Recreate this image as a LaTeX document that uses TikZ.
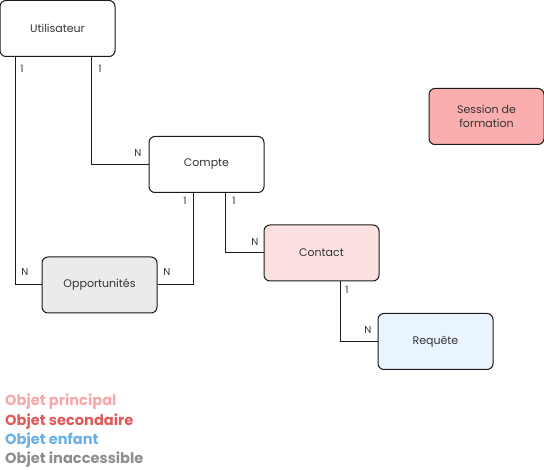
\documentclass[tikz,border=0pt]{standalone}
\usepackage{fontspec}
\setmainfont{Poppins}
\definecolor{edge}{HTML}{1A1A1A}
\definecolor{txt}{HTML}{333333}
\definecolor{contactfill}{HTML}{FDE0E0}
\definecolor{sessionfill}{HTML}{FBAEAE}
\definecolor{oppfill}{HTML}{EBEBEB}
\definecolor{reqfill}{HTML}{EAF4FF}
\definecolor{lgprincipal}{HTML}{F7A8A8}
\definecolor{lgsecondaire}{HTML}{E05A5A}
\definecolor{lgenfant}{HTML}{6AB0E8}
\definecolor{lginacc}{HTML}{8E8E8E}
\tikzset{
  entity/.style={draw=edge, line width=1pt, rounded corners=6pt, minimum width=115pt, minimum height=56pt, inner sep=0pt, text=txt, font=\fontsize{11}{14}\selectfont, align=center},
  link/.style={draw=edge, line width=1pt},
  card/.style={text=txt, font=\fontsize{10}{11}\selectfont, inner sep=0pt},
  legend/.style={anchor=west, inner sep=0pt, font=\bfseries\fontsize{14.6}{16}\selectfont}
}
\begin{document}
\begin{tikzpicture}[x=1pt,y=1pt]
\useasboundingbox (0,0) rectangle (544,-470);
\node[entity, fill=white] (u) at (57.5,-28.5) {Utilisateur};
\node[entity, fill=white] (c) at (206.5,-164.5) {Compte};
\node[entity, fill=contactfill] (ct) at (321.5,-253) {Contact};
\node[entity, fill=oppfill] (o) at (99.5,-285) {Opportunités};
\node[entity, fill=reqfill] (r) at (435.5,-341.5) {Requête};
\node[entity, fill=sessionfill] (s) at (486.5,-116.5) {Session de\\formation};

\draw[link] ([xshift=16pt]u.south west) |- (o.west);
\draw[link] ([xshift=92pt]u.south west) |- (c.west);
\draw[link] ([xshift=45pt]c.south west) |- (o.east);
\draw[link] ([xshift=77pt]c.south west) |- (ct.west);
\draw[link] ([xshift=77pt]ct.south west) |- (r.west);

\node[card] (l1) at (22,-69) {1};
\node[card] (l2) at (25,-272) {N};
\node[card] (l3) at (100,-69) {1};
\node[card] (l4) at (138,-153) {N};
\node[card] (l5) at (185,-201) {1};
\node[card] (l6) at (167,-272) {N};
\node[card] (l7) at (234,-201) {1};
\node[card] (l8) at (255,-242) {N};
\node[card] (l9) at (347,-290) {1};
\node[card] (l10) at (368,-330) {N};

\node[legend, text=lgprincipal] (g1) at (5,-402) {Objet principal};
\node[legend, text=lgsecondaire] (g2) at (5,-422) {Objet secondaire};
\node[legend, text=lgenfant] (g3) at (5,-441) {Objet enfant};
\node[legend, text=lginacc] (g4) at (5,-460) {Objet inaccessible};
\end{tikzpicture}
\end{document}
